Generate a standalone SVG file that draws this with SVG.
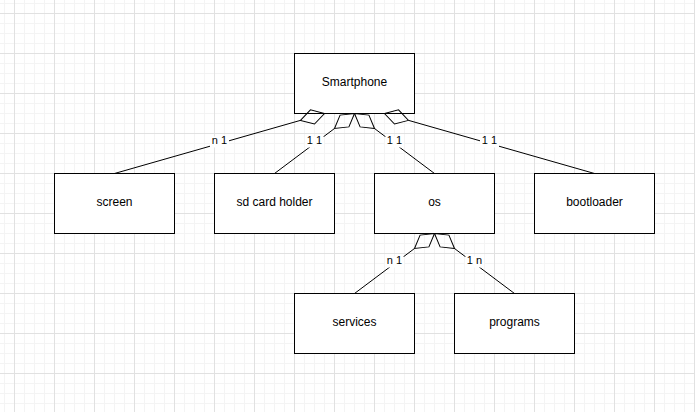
<svg xmlns="http://www.w3.org/2000/svg" width="695" height="412" viewBox="0 0 695 412">
  <style>
    .box { fill: #ffffff; stroke: #000000; stroke-width: 1; }
    .btxt { font-family: "Liberation Sans", Arial, Helvetica, sans-serif; font-size: 12px; fill: #000000; text-anchor: middle; }
    .edge { fill: none; stroke: #000000; stroke-width: 1; }
    .lbg { fill: #ffffff; stroke: none; }
    .ltxt { font-family: "Liberation Sans", Arial, Helvetica, sans-serif; font-size: 11px; fill: #000000; text-anchor: middle; }
  </style>
  <defs>
    <pattern id="minor" x="4" y="3" width="10" height="10" patternUnits="userSpaceOnUse">
      <path d="M0.5,0 V10 M0,0.5 H10" fill="none" stroke="#f4f4f4" stroke-width="1"/>
    </pattern>
    <pattern id="major" x="14" y="13" width="40" height="40" patternUnits="userSpaceOnUse">
      <path d="M0.5,0 V40 M0,0.5 H40" fill="none" stroke="#e1e1e1" stroke-width="1"/>
    </pattern>
    <marker id="dia" markerUnits="userSpaceOnUse" markerWidth="27" markerHeight="17" refX="1" refY="8.5" orient="auto" overflow="visible">
      <path d="M1,8.5 L13.5,1.15 L26,8.5 L13.5,15.85 Z" fill="none" stroke="#000000" stroke-width="1"/>
    </marker>
  </defs>

  <rect x="0" y="0" width="695" height="412" fill="#ffffff"/>
  <rect x="0" y="0" width="695" height="412" fill="url(#minor)"/>
  <rect x="0" y="0" width="695" height="412" fill="url(#major)"/>

  <g id="smartphone">
    <rect class="box" x="294.5" y="53.5" width="120" height="60"/>
    <text class="btxt" x="354.5" y="86">Smartphone</text>
  </g>
  <g id="screen">
    <rect class="box" x="54.5" y="173.5" width="120" height="60"/>
    <text class="btxt" x="114.5" y="206">screen</text>
  </g>
  <g id="sdcardholder">
    <rect class="box" x="214.5" y="173.5" width="120" height="60"/>
    <text class="btxt" x="274.5" y="206">sd card holder</text>
  </g>
  <g id="os">
    <rect class="box" x="374.5" y="173.5" width="120" height="60"/>
    <text class="btxt" x="434.5" y="206">os</text>
  </g>
  <g id="bootloader">
    <rect class="box" x="534.5" y="173.5" width="120" height="60"/>
    <text class="btxt" x="594.5" y="206">bootloader</text>
  </g>
  <g id="services">
    <rect class="box" x="294.5" y="293.5" width="120" height="60"/>
    <text class="btxt" x="354.5" y="326">services</text>
  </g>
  <g id="programs">
    <rect class="box" x="454.5" y="293.5" width="120" height="60"/>
    <text class="btxt" x="514.5" y="326">programs</text>
  </g>

  <g id="connectors">
    <line class="edge" x1="114.5" y1="173.5" x2="300.46" y2="120.37" marker-end="url(#dia)"/>
    <line class="edge" x1="274.5" y1="173.5" x2="334.5" y2="128.5" marker-end="url(#dia)"/>
    <line class="edge" x1="434.5" y1="173.5" x2="374.5" y2="128.5" marker-end="url(#dia)"/>
    <line class="edge" x1="594.5" y1="173.5" x2="408.54" y2="120.37" marker-end="url(#dia)"/>
    <line class="edge" x1="354.5" y1="293.5" x2="414.5" y2="248.5" marker-end="url(#dia)"/>
    <line class="edge" x1="514.5" y1="293.5" x2="454.5" y2="248.5" marker-end="url(#dia)"/>

    <rect class="lbg" x="210" y="136.5" width="19" height="11"/>
    <text class="ltxt" x="219.5" y="144">n 1</text>
    <rect class="lbg" x="305" y="136.5" width="19" height="11"/>
    <text class="ltxt" x="314.5" y="144">1 1</text>
    <rect class="lbg" x="385" y="136.5" width="19" height="11"/>
    <text class="ltxt" x="394.5" y="144">1 1</text>
    <rect class="lbg" x="480" y="136.5" width="19" height="11"/>
    <text class="ltxt" x="489.5" y="144">1 1</text>
    <rect class="lbg" x="385" y="256.5" width="19" height="11"/>
    <text class="ltxt" x="394.5" y="264">n 1</text>
    <rect class="lbg" x="465" y="256.5" width="19" height="11"/>
    <text class="ltxt" x="474.5" y="264">1 n</text>
  </g>
</svg>
